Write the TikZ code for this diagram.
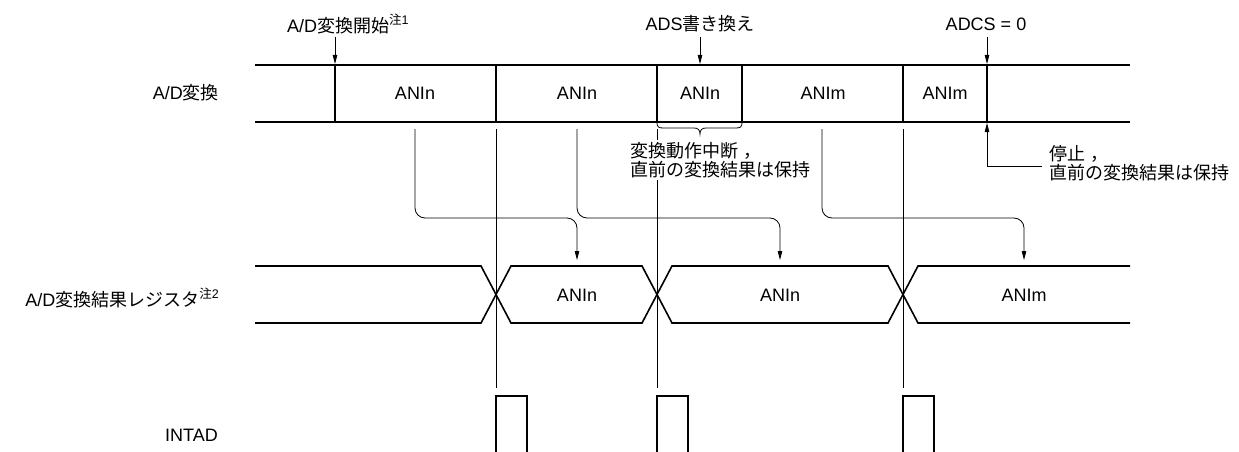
\documentclass[tikz,border=0pt]{standalone}
\usepackage{fontspec}
\setmainfont{Liberation Sans}
\newfontfamily\jp{Noto Sans CJK JP}
\usetikzlibrary{arrows.meta}
\newcommand{\notemark}[1]{\raisebox{0.42em}{\fontsize{12.5}{13}\selectfont{\jp 注}#1}}
\newcommand{\jcomma}{\hspace{0.3em}{\jp ，}}
\begin{document}
\begin{tikzpicture}[x=1pt,y=-1pt,
  thickline/.style={line width=1.6pt},
  thinline/.style={line width=0.8pt},
  arr/.style={line width=0.8pt,-{Triangle[length=9pt,width=4.5pt]}},
  lbl/.style={inner sep=0pt,font=\fontsize{18}{21}\selectfont},
  wlbl/.style={lbl,fill=white,inner sep=2pt,align=left}]
\useasboundingbox (0,0) rectangle (1239,452);
% --- A/D conversion row
\draw[thickline] (255,65) -- (1130,65);
\draw[thickline] (255,122) -- (1130,122);
\foreach \x in {335,496,657,742,903,987}
  \draw[thickline] (\x,65) -- (\x,122);
\node[lbl] (c1) at (415,93) {ANIn};
\node[lbl] (c2) at (577,93) {ANIn};
\node[lbl] (c3) at (700,93) {ANIn};
\node[lbl] (c4) at (823,93) {ANIm};
\node[lbl] (c5) at (945,93) {ANIm};
% --- left labels
\node[lbl,anchor=east] (Lad) at (219,93) {A/D{\jp 変換}};
\node[lbl,anchor=east] (Lreg) at (219,298) {A/D{\jp 変換結果レジスタ}\notemark{2}};
\node[lbl,anchor=east] (Lint) at (218,435) {INTAD};
% --- top labels with arrows
\node[lbl,anchor=west] (t1) at (287,24) {A/D{\jp 変換開始}\notemark{1}};
\node[lbl] (t2) at (700,24) {ADS{\jp 書き換え}};
\node[lbl] (t3) at (986,24) {ADCS = 0};
\coordinate (a1s) at (335,37); \coordinate (a1e) at (335,64);
\coordinate (a2s) at (700,37); \coordinate (a2e) at (700,64);
\coordinate (a3s) at (987,37); \coordinate (a3e) at (987,64);
\draw[arr] (a1s) -- (a1e);
\draw[arr] (a2s) -- (a2e);
\draw[arr] (a3s) -- (a3e);
% --- brace under third ANIn
\draw[thinline] (657,123) .. controls (657,127) and (659,128) .. (663,128) -- (694,128)
  .. controls (698,128) and (700,130) .. (700,134)
  .. controls (700,130) and (702,128) .. (706,128) -- (736,128)
  .. controls (740,128) and (742,127) .. (742,123);
% --- thin vertical guide lines
\foreach \x in {496,657,903}
  \draw[thinline] (\x,129) -- (\x,388);
\node[wlbl,anchor=north west] (msg1) at (628,140) {{\jp 変換動作中断}\jcomma\\[-2pt]{\jp 直前の変換結果は保持}};
% --- stop annotation
\node[lbl,anchor=west,align=left] (msg2) at (1049,163) {{\jp 停止}\jcomma\\[-2pt]{\jp 直前の変換結果は保持}};
\coordinate (s0) at (1042,166);
\coordinate (s1) at (987,166);
\coordinate (s2) at (987,123);
\draw[arr] (s0) -- (s1) -- (s2);
% --- result transfer arrows
\draw[arr,rounded corners=10pt] (415,129) -- (415,218) -- (577,218) -- (577,260);
\draw[arr,rounded corners=10pt] (577,129) -- (577,218) -- (780,218) -- (780,260);
\draw[arr,rounded corners=10pt] (822,129) -- (822,218) -- (1024,218) -- (1024,260);
% --- register row
\draw[thickline] (255,266) -- (481,266) -- (511,323) -- (642,323) -- (672,266) -- (888,266) -- (918,323) -- (1130,323);
\draw[thickline] (255,323) -- (481,323) -- (511,266) -- (642,266) -- (672,323) -- (888,323) -- (918,266) -- (1130,266);
\node[lbl] (r1) at (577,295) {ANIn};
\node[lbl] (r2) at (780,295) {ANIn};
\node[lbl] (r3) at (1024,295) {ANIm};
% --- INTAD pulses
\foreach \x in {496,657,903}
  \draw[thickline] (\x,453) -- (\x,396) -- (\x+31,396) -- (\x+31,453);
\end{tikzpicture}
\end{document}
